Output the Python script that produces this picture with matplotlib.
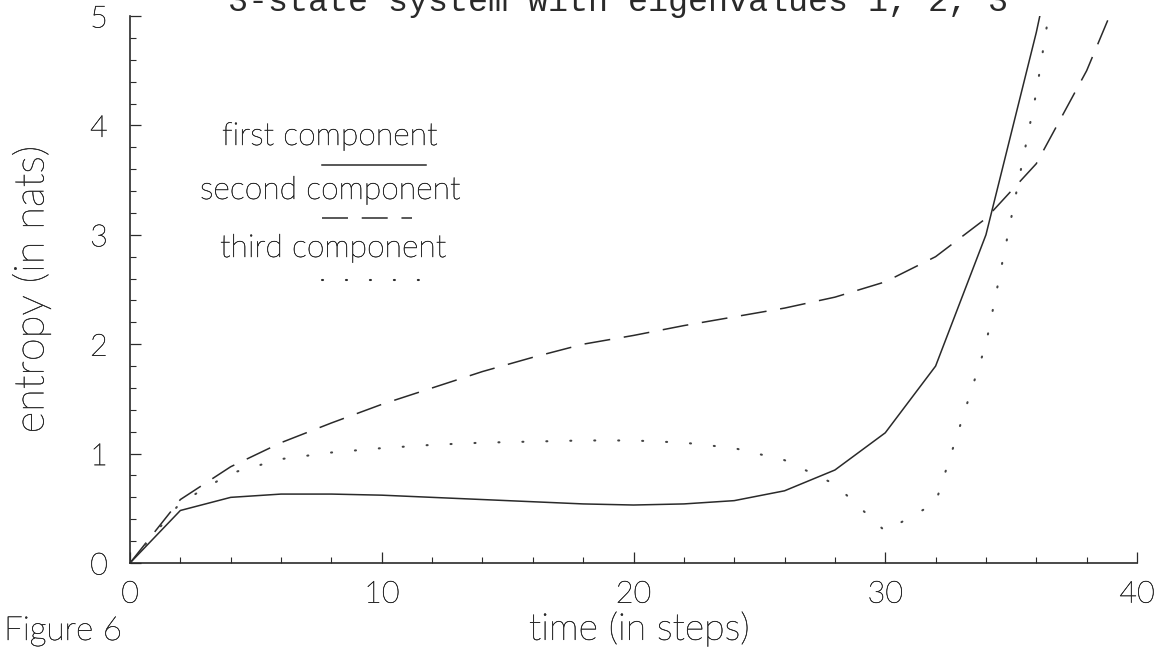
import numpy as np
import matplotlib
matplotlib.use('Agg')
import matplotlib.pyplot as plt
import matplotlib.patheffects as pe
from matplotlib.ticker import MultipleLocator

# time steps (sampled every 2 steps)
steps = [0, 2, 4, 6, 8, 10, 12, 14, 16, 18, 20, 22, 24, 26, 28, 30, 32, 34, 36, 38, 40]

first = [0, 0.48, 0.60, 0.63, 0.63, 0.62, 0.60, 0.58, 0.56, 0.54, 0.53,
         0.54, 0.57, 0.66, 0.85, 1.19, 1.80, 3.00, 4.85, 7.0, 9.0]
second = [0, 0.58, 0.88, 1.10, 1.28, 1.45, 1.60, 1.75, 1.88, 2.00, 2.08,
          2.17, 2.25, 2.33, 2.43, 2.57, 2.80, 3.15, 3.65, 4.50, 5.6]
third = [0, 0.55, 0.82, 0.95, 1.01, 1.05, 1.08, 1.10, 1.11, 1.12, 1.12,
         1.10, 1.05, 0.94, 0.72, 0.29, 0.55, 2.00, 4.30, 7.2, 9.0]

labels = ['first component', 'second component', 'third component']

ink = '#2a2a2a'
plt.rcParams['font.family'] = ['Lato', 'DejaVu Sans']
plt.rcParams['font.weight'] = 'light'
plt.rcParams['axes.labelweight'] = 'light'
# thicken the thin light font a little, like the plotter lettering
thick = [pe.withStroke(linewidth=0.35, foreground=ink)]

solid = dict(lw=1.1, linestyle='-')
dashed = dict(lw=1.1, linestyle=(0, (17, 9)))
dotted = dict(lw=1.5, linestyle=(0, (0.5, 11)), dash_capstyle='round')

fig = plt.figure(figsize=(11.69, 6.53), dpi=100)
ax = fig.add_axes([130/1169, 1 - 563/653, 1007/1169, 547/653])

ax.plot(steps, first, color=ink, **solid)
ax.plot(steps, second, color=ink, **dashed)
ax.plot(steps, third, color='#444444', **dotted)

ax.set_xlim(0, 40)
ax.set_ylim(0, 5)
ax.spines['top'].set_visible(False)
ax.spines['right'].set_visible(False)
for s in ['left', 'bottom']:
    ax.spines[s].set_color(ink)
    ax.spines[s].set_linewidth(1.2)

ax.xaxis.set_major_locator(MultipleLocator(10))
ax.xaxis.set_minor_locator(MultipleLocator(2))
ax.yaxis.set_major_locator(MultipleLocator(1))
ax.yaxis.set_minor_locator(MultipleLocator(0.2))
ax.tick_params(which='major', direction='in', length=8, width=0.9, color=ink,
               labelsize=22, labelcolor=ink)
ax.tick_params(which='minor', direction='in', length=4, width=0.8, color=ink)
ax.tick_params(axis='x', pad=12)
ax.tick_params(axis='y', pad=16)
for lbl in ax.get_xticklabels() + ax.get_yticklabels():
    lbl.set_path_effects(thick)
ax.get_yticklabels()[0].set_fontweight('bold')

ax.set_xlabel('time (in steps)', fontsize=27, color=ink, path_effects=thick)
ax.xaxis.set_label_coords(0.506, -0.088)
ax.set_ylabel('entropy (in nats)', fontsize=30, color=ink, path_effects=thick)
ax.yaxis.set_label_coords(-0.078, 0.5)

# legend written as text with a sample line underneath
text_x = [222, 200, 220]
text_y = [145, 199, 257]
sample_y = [165, 218, 280]
sample_end = [426, 412, 423]
styles = [solid, dashed, dotted]
for lab, tx, ty, sy, se, st in zip(labels, text_x, text_y, sample_y, sample_end, styles):
    fig.text(tx/1169, 1 - ty/653, lab, fontsize=23, color=ink, va='baseline',
             path_effects=thick)
    fig.add_artist(plt.Line2D([322/1169, se/1169], [1 - sy/653, 1 - sy/653],
                              color=ink, **st))

fig.text(228/1169, 1 - 11/653, '3-state system with eigenvalues 1, 2, 3',
         fontsize=24, ha='left', va='baseline', color=ink,
         family='Liberation Mono', weight='normal')
fig.text(4/1169, 1 - 640/653, 'Figure 6', fontsize=24, color=ink, va='baseline',
         path_effects=thick)

fig.savefig('out.png', dpi=100)
